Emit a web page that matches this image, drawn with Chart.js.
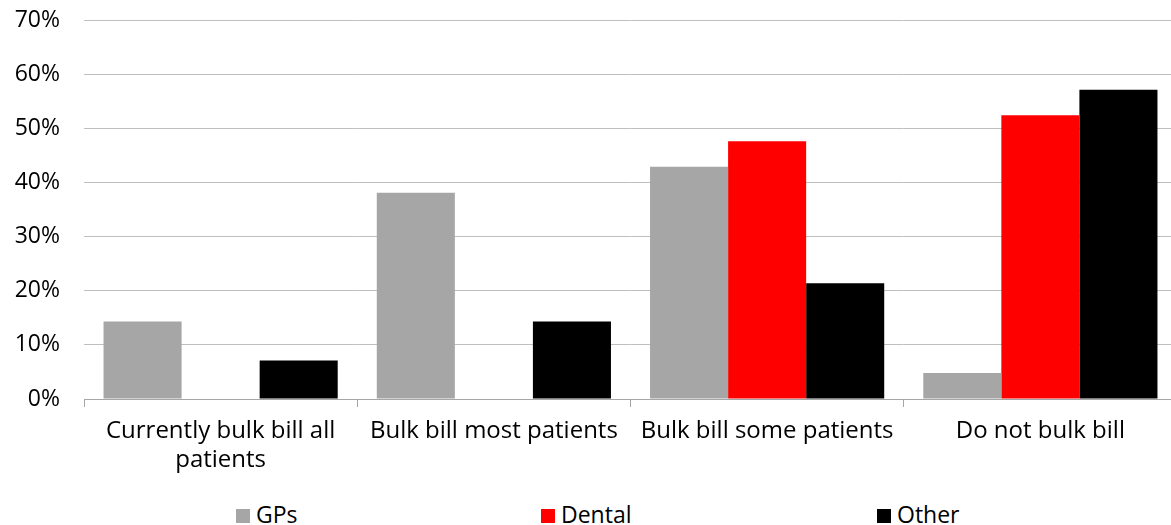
<!DOCTYPE html>
<html>
<head>
<meta charset="utf-8">
<script src="https://cdn.jsdelivr.net/npm/chart.js@4.4.1/dist/chart.umd.min.js"></script>
<style>
  html, body { margin: 0; padding: 0; background: #fff; overflow: hidden; }
  #wrap { position: relative; width: 1180px; height: 525px; }
  #chartBox { position: absolute; left: 0; top: 0; width: 1180px; height: 489px; }
  #legend { position: absolute; left: 0; top: 498px; width: 1171px; height: 27px;
            font-family: "Open Sans", sans-serif; font-size: 23px; color: #000; }
  .item { position: absolute; top: 0; display: flex; align-items: center; white-space: nowrap; }
  .box { width: 14px; height: 14px; margin-right: 6px; margin-top: 4px; }
</style>
</head>
<body>
<div id="wrap">
  <div id="chartBox"><canvas id="c"></canvas></div>
  <div id="legend"></div>
</div>
<script>
const categories = [
  ["Currently bulk bill all", "patients"],
  "Bulk bill most patients",
  "Bulk bill some patients",
  "Do not bulk bill"
];
const seriesNames = ["GPs", "Dental", "Other"];
const gpsValues = [14.3, 38.1, 42.9, 4.8];
const dentalValues = [0, 0, 47.6, 52.4];
const otherValues = [7.1, 14.3, 21.4, 57.1];
const yTicks = [0, 10, 20, 30, 40, 50, 60, 70];
const seriesColors = ["#a6a6a6", "#ff0000", "#000000"];
const legendX = [236, 541, 877];

const FONT = "'Open Sans', sans-serif";

const htmlLegend = {
  id: 'htmlLegend',
  afterUpdate(chart) {
    const el = document.getElementById('legend');
    el.innerHTML = '';
    chart.data.datasets.forEach((ds, i) => {
      const item = document.createElement('div');
      item.className = 'item';
      item.style.left = legendX[i] + 'px';
      const box = document.createElement('span');
      box.className = 'box';
      box.style.background = ds.backgroundColor;
      const txt = document.createElement('span');
      txt.textContent = ds.label;
      item.appendChild(box);
      item.appendChild(txt);
      el.appendChild(item);
    });
  }
};

new Chart(document.getElementById('c'), {
  type: 'bar',
  data: {
    labels: categories,
    datasets: [
      { label: seriesNames[0], data: gpsValues, backgroundColor: seriesColors[0] },
      { label: seriesNames[1], data: dentalValues, backgroundColor: seriesColors[1] },
      { label: seriesNames[2], data: otherValues, backgroundColor: seriesColors[2] }
    ]
  },
  options: {
    responsive: true,
    maintainAspectRatio: false,
    animation: false,
    layout: { padding: { top: 20, right: 3, bottom: 0, left: 0 } },
    datasets: { bar: { categoryPercentage: 0.857, barPercentage: 1.0, borderWidth: 0 } },
    plugins: { legend: { display: false }, tooltip: { enabled: false } },
    scales: {
      x: {
        grid: { display: true, drawOnChartArea: false, drawTicks: true, tickLength: 8, color: '#a6a6a6', offset: true },
        border: { display: true, color: '#a6a6a6', width: 1 },
        ticks: { color: '#000', padding: 10, maxRotation: 0, autoSkip: false,
                 font: { family: FONT, size: 24, lineHeight: 1.21 } },
        afterFit(s) { s.height = 90; }
      },
      y: {
        min: 0, max: 70,
        afterBuildTicks(s) { s.ticks = yTicks.map(v => ({ value: v })); },
        grid: { color: '#bfbfbf', lineWidth: 1, drawTicks: true, tickLength: 24, tickColor: 'rgba(0,0,0,0)' },
        border: { display: false },
        ticks: { color: '#000', padding: 0, font: { family: FONT, size: 23 },
                 callback: v => v + '%' },
        afterFit(s) { s.width = 84; }
      }
    }
  },
  plugins: [htmlLegend]
});
</script>
</body>
</html>
